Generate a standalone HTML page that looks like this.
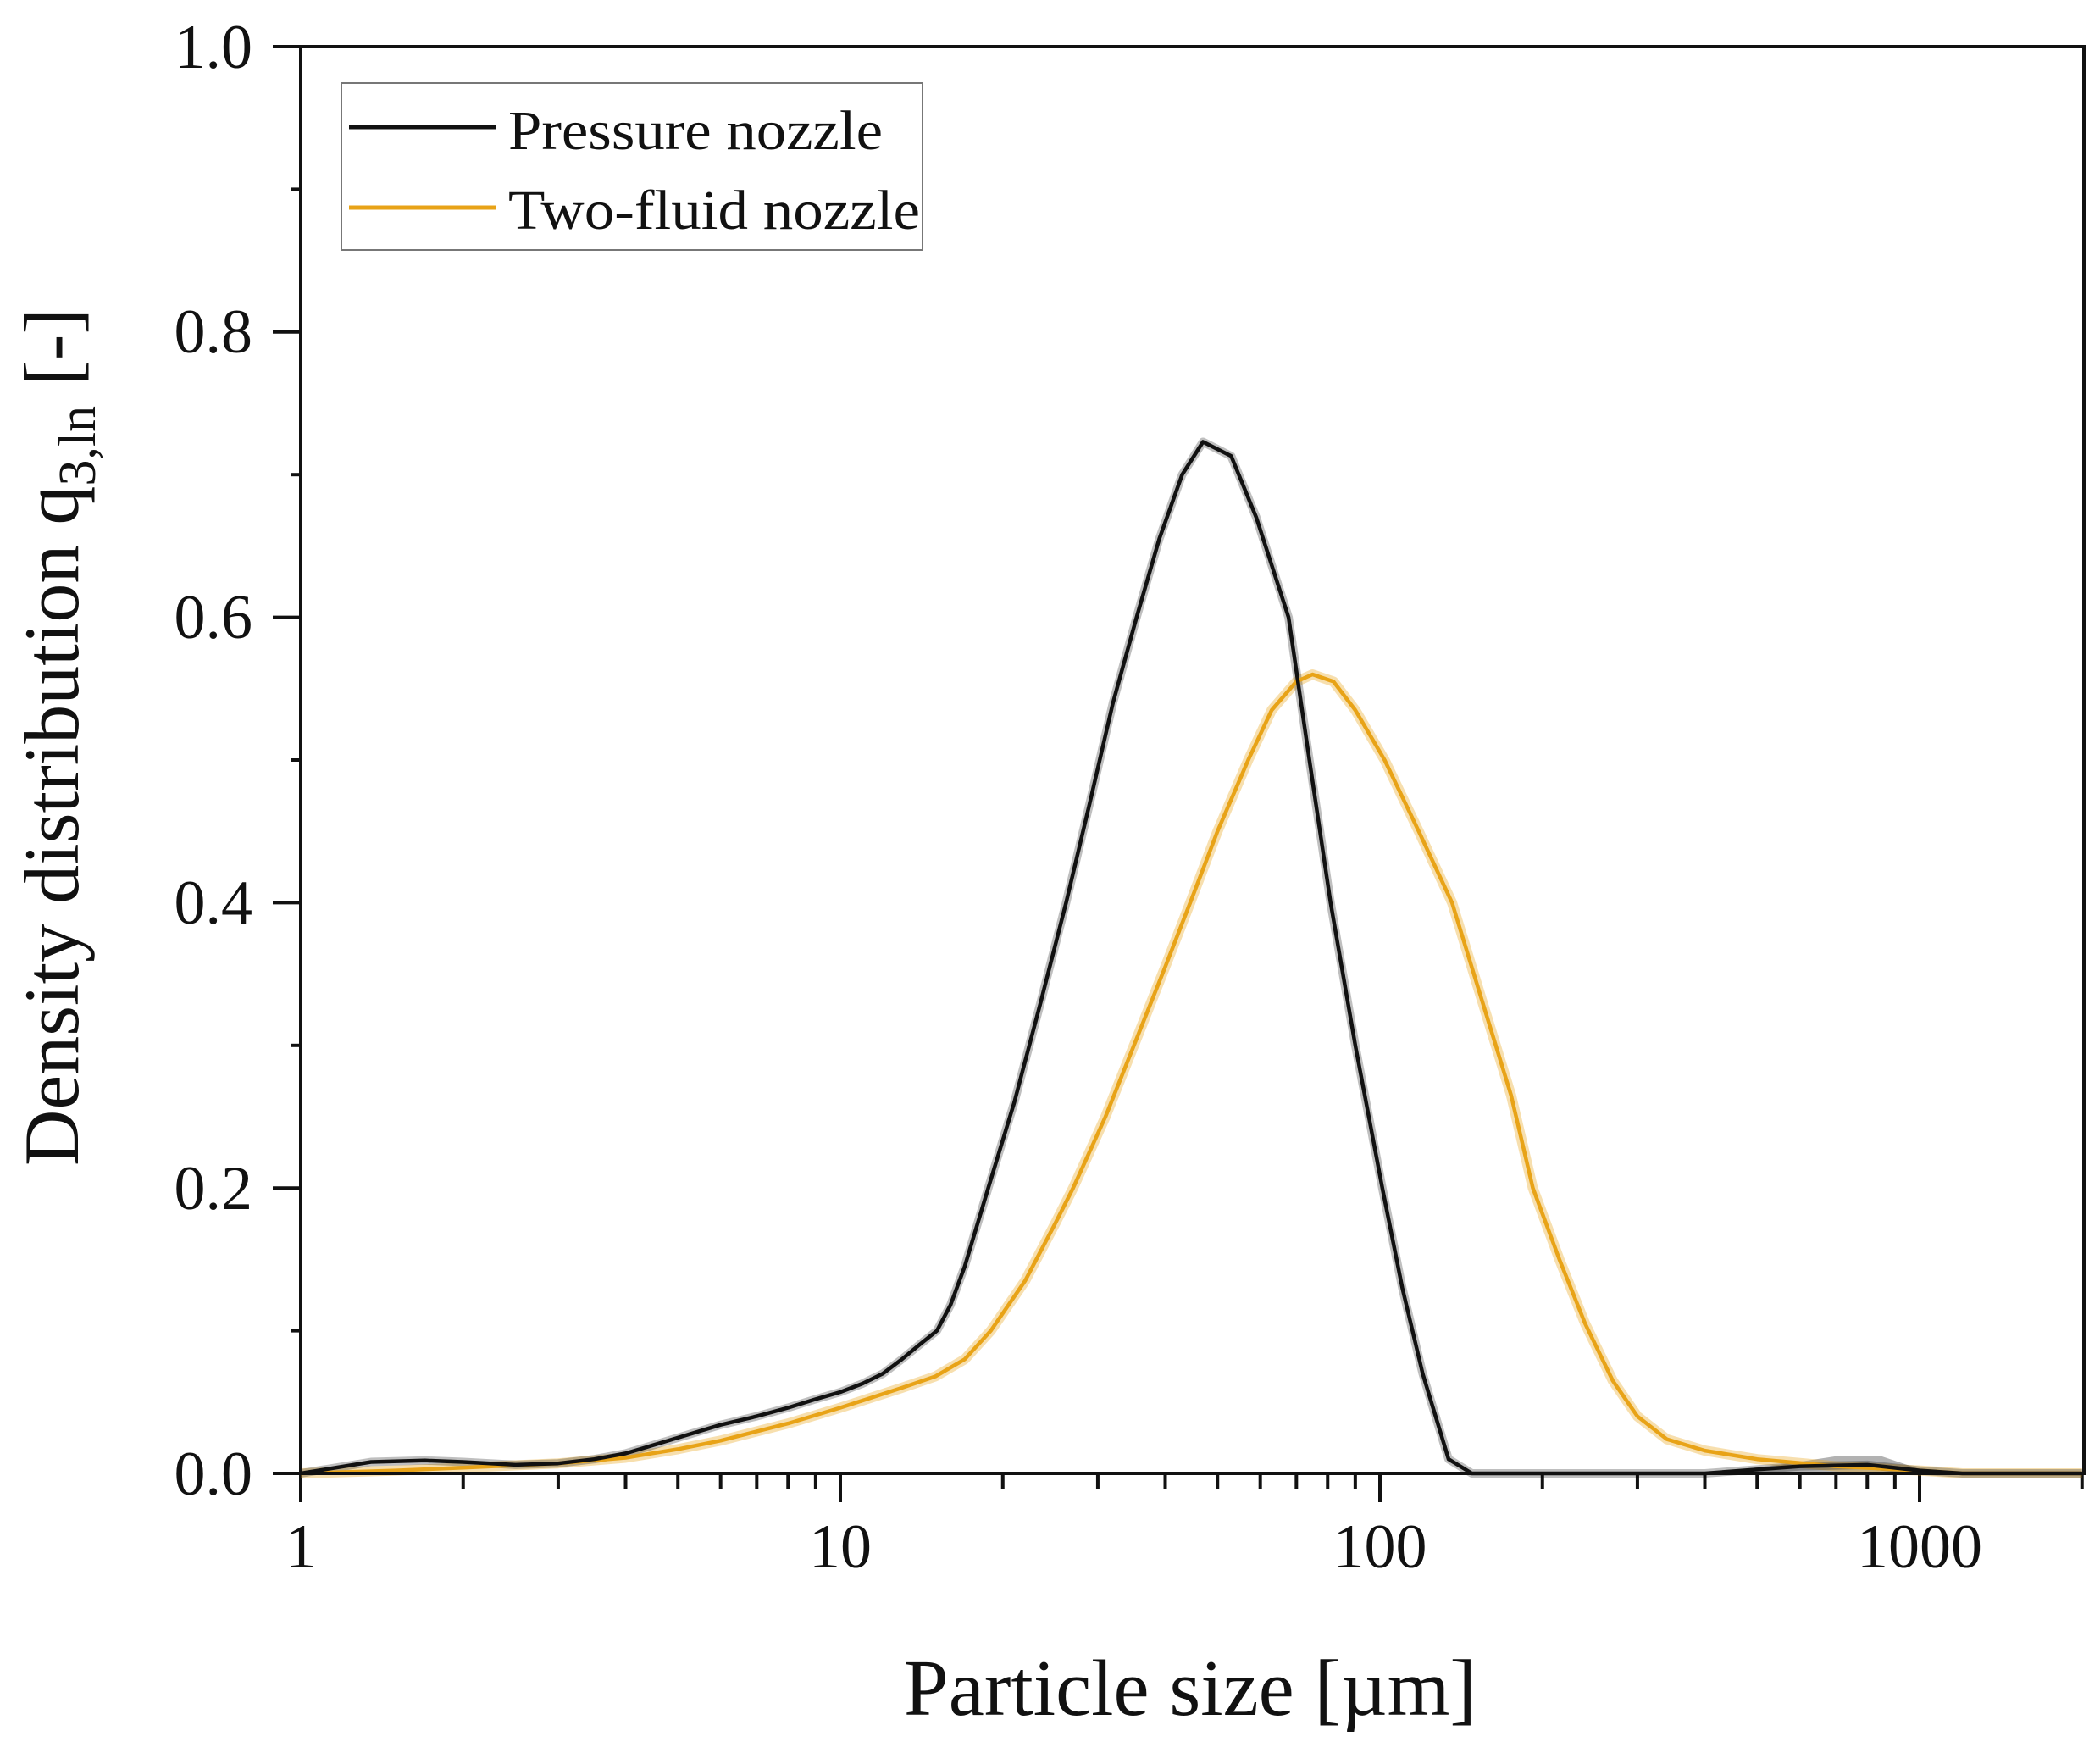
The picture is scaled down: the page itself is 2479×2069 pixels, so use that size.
<!DOCTYPE html>
<html><head><meta charset="utf-8"><style>
html,body{margin:0;padding:0;background:#fff;}
svg{display:block;}
text{font-family:"Liberation Serif",serif;fill:#111;}
</style></head><body>
<svg id="s" width="2479" height="2069" viewBox="0 0 2479 2069" xmlns="http://www.w3.org/2000/svg">
<rect width="2479" height="2069" fill="#fff"/>
<g id="ticks" stroke="#111" stroke-width="4"></g>
<path id="kb2" fill="#000" fill-opacity="0.3" d=""/>
<path id="yb" fill="none" stroke="#e8a317" stroke-opacity="0.35" stroke-width="12" stroke-linejoin="round"/>
<path id="kb" fill="none" stroke="#000" stroke-opacity="0.25" stroke-width="10" stroke-linejoin="round"/>
<path id="y" fill="none" stroke="#e8a317" stroke-width="4.5" stroke-linejoin="round"/>
<path id="k" fill="none" stroke="#111" stroke-width="4.5" stroke-linejoin="round"/>
<rect x="355" y="55" width="2105" height="1684" fill="none" stroke="#111" stroke-width="4"/>
<rect x="403" y="98" width="686" height="197" fill="#fff" stroke="#777" stroke-width="2"/>
<line x1="412" y1="150" x2="585" y2="150" stroke="#111" stroke-width="5"/>
<line x1="412" y1="245" x2="585" y2="245" stroke="#e8a317" stroke-width="5"/>
<text x="600" y="176" font-size="66" textLength="442" lengthAdjust="spacingAndGlyphs">Pressure nozzle</text>
<text x="600" y="270" font-size="66" textLength="486" lengthAdjust="spacingAndGlyphs">Two-fluid nozzle</text>
<g font-size="74" text-anchor="end">
<text x="298" y="1764">0.0</text>
<text x="298" y="1427">0.2</text>
<text x="298" y="1090">0.4</text>
<text x="298" y="753">0.6</text>
<text x="298" y="416">0.8</text>
<text x="298" y="80">1.0</text>
</g>
<g font-size="74" text-anchor="middle">
<text x="355" y="1850">1</text>
<text x="992" y="1850">10</text>
<text x="1629" y="1850">100</text>
<text x="2266" y="1850">1000</text>
</g>
<text x="1405" y="2024" font-size="94" text-anchor="middle" textLength="676" lengthAdjust="spacingAndGlyphs">Particle size [µm]</text>
<text transform="translate(92,870) rotate(-90)" font-size="92" text-anchor="middle">Density distribution q<tspan font-size="62" dy="20">3,ln</tspan><tspan dy="-20"> [-]</tspan></text>
</svg>
<script>
var X0=355,D=637,Y0=1739,H=1684;
function px(d){return X0+D*Math.log10(d);}
function py(v){return Y0-H*v;}
var K=[[1,0],[1.35,0.008],[1.7,0.009],[2,0.008],[2.5,0.006],[3,0.007],[3.5,0.01],[4,0.014],[5,0.025],[6,0.034],[7,0.04],[8,0.046],[9,0.052],[10,0.057],[11,0.063],[12,0.07],[13,0.08],[14,0.09],[15.1,0.1],[16,0.118],[17,0.145],[18.8,0.2],[21,0.26],[23.5,0.33],[26.2,0.4],[29,0.47],[32,0.54],[35.4,0.6],[39,0.655],[43,0.7],[47,0.723],[53,0.713],[59,0.67],[67.7,0.6],[74,0.5],[81,0.4],[90,0.3],[101,0.2],[110,0.13],[120,0.07],[134,0.01],[148,0],[400,0],[600,0.005],[800,0.006],[1000,0.002],[1200,0],[2000,0]];
var Y=[[1,0],[1.5,0.002],[2,0.004],[3,0.007],[4,0.011],[5,0.017],[6,0.023],[8,0.035],[10,0.046],[13,0.06],[15,0.068],[17,0.08],[19,0.1],[22,0.135],[25,0.175],[27,0.2],[31,0.25],[35,0.3],[40,0.355],[44.5,0.4],[50,0.45],[57,0.5],[63,0.535],[70,0.555],[75,0.56],[82,0.555],[90,0.535],[102,0.5],[118,0.45],[136,0.4],[155,0.33],[175,0.265],[192,0.2],[215,0.15],[240,0.105],[270,0.065],[300,0.04],[340,0.024],[400,0.016],[500,0.01],[700,0.005],[1000,0.002],[1200,0],[2000,0]];
function path(a){return a.map(function(p,i){return (i?'L':'M')+px(p[0]).toFixed(1)+' '+py(p[1]).toFixed(1);}).join('');}
['k','kb'].forEach(function(id){document.getElementById(id).setAttribute('d',path(K));});
['y','yb'].forEach(function(id){document.getElementById(id).setAttribute('d',path(Y));});
var b=[[400,0],[550,0.006],[700,0.012],[850,0.012],[1000,0.003],[1100,0]];
document.getElementById('kb2').setAttribute('d',path(b)+'Z');
var g=document.getElementById('ticks'),s='';
for(var e=0;e<4;e++){for(var m=1;m<10;m++){var d=m*Math.pow(10,e);if(d>2000)break;var x=px(d);
 s+='<line x1="'+x+'" y1="'+Y0+'" x2="'+x+'" y2="'+(Y0+(m==1?34:18))+'"/>';}}
for(var i=0;i<=10;i++){var y=py(i/10);s+='<line x1="'+X0+'" y1="'+y+'" x2="'+(X0-(i%2==0?33:11))+'" y2="'+y+'"/>';}
g.innerHTML=s;
</script>
</body></html>
